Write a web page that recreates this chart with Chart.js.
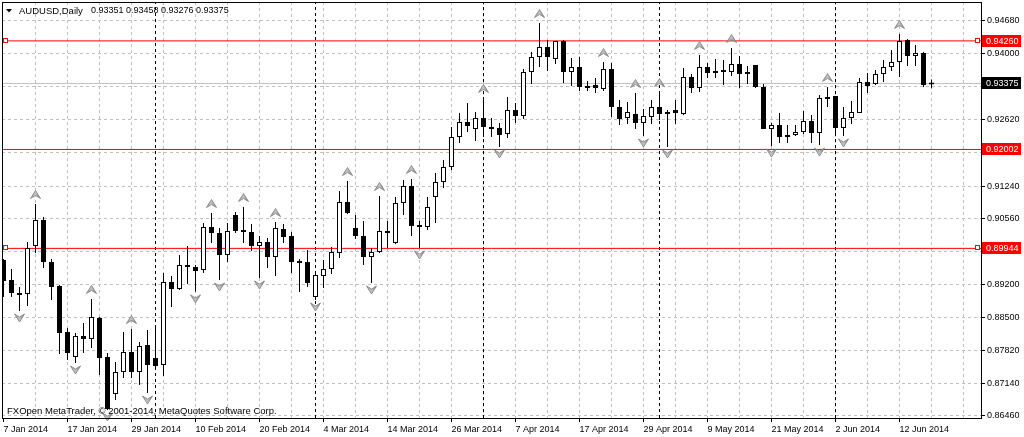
<!DOCTYPE html>
<html><head><meta charset="utf-8">
<script src="https://cdn.jsdelivr.net/npm/chart.js@4/dist/chart.umd.min.js"></script>
<style>html,body{margin:0;padding:0;background:#fff;overflow:hidden}#wrap{width:1024px;height:437px;position:relative}</style>
</head><body><div id="wrap"><canvas id="c"></canvas></div>
<script>
// ---------- data ----------
const symbolName = 'AUDUSD,Daily';
const copyrightText = 'FXOpen MetaTrader, \u00A9 2001-2014, MetaQuotes Software Corp.';
const dateLabels = ['7 Jan 2014','17 Jan 2014','29 Jan 2014','10 Feb 2014','20 Feb 2014','4 Mar 2014','14 Mar 2014','26 Mar 2014','7 Apr 2014','17 Apr 2014','29 Apr 2014','9 May 2014','21 May 2014','2 Jun 2014','12 Jun 2014'];
const labelStep = 8;
const gridStep = 4;

const opens = [0.89703,0.89287,0.89017,0.88996,0.89994,0.90535,0.89661,0.89162,0.88205,0.87685,
0.88122,0.88060,0.88497,0.87685,0.86916,0.87373,0.87789,0.87373,0.87935,0.87665,
0.87519,0.89245,0.89100,0.89599,0.89557,0.89495,0.90389,0.90265,0.89807,0.90639,
0.90327,0.90285,0.89994,0.90077,0.89765,0.90348,0.90202,0.89682,0.89661,0.88933,
0.89370,0.89516,0.89849,0.90909,0.90369,0.90202,0.89765,0.89869,0.90306,0.90057,
0.90889,0.91242,0.90410,0.90389,0.91013,0.91325,0.91637,0.92261,0.92573,0.92428,
0.92657,0.92449,0.92449,0.92324,0.92823,0.92698,0.93613,0.93925,0.94133,0.93884,
0.94258,0.93613,0.93717,0.93322,0.93343,0.93260,0.93676,0.92885,0.92657,0.92740,
0.92553,0.92677,0.92885,0.92740,0.92823,0.92740,0.93509,0.93281,0.93717,0.93593,
0.93634,0.93613,0.93780,0.93572,0.93759,0.93301,0.92428,0.92511,0.92261,0.92303,
0.92365,0.92594,0.92345,0.93093,0.93114,0.92449,0.92657,0.92761,0.93405,0.93364,
0.93572,0.93717,0.93821,0.94279,0.93946,0.94009,0.93351];
const highs = [0.89724,0.89516,0.89141,0.90077,0.90868,0.90597,0.89724,0.89183,0.88289,0.88185,
0.88393,0.88892,0.88517,0.87769,0.87581,0.88205,0.88268,0.87997,0.88247,0.88351,
0.89433,0.89370,0.89807,0.89994,0.89599,0.90473,0.90681,0.90369,0.90473,0.90701,
0.90805,0.90452,0.90202,0.90161,0.90493,0.90452,0.90285,0.89724,0.89911,0.89474,
0.89703,0.89973,0.91138,0.91346,0.90639,0.90514,0.89953,0.91034,0.90514,0.91013,
0.91367,0.91388,0.90514,0.91013,0.91513,0.91783,0.92469,0.92761,0.92969,0.92781,
0.93073,0.92657,0.92553,0.93093,0.92969,0.93676,0.94029,0.94633,0.94279,0.94258,
0.94279,0.93905,0.93925,0.93426,0.93489,0.93821,0.93801,0.93031,0.92990,0.93177,
0.92844,0.93031,0.93197,0.92823,0.93031,0.93697,0.93572,0.93967,0.93801,0.93884,
0.93863,0.94113,0.93946,0.93738,0.93759,0.93364,0.92553,0.92761,0.92511,0.92511,
0.92802,0.92719,0.93135,0.93301,0.93114,0.92885,0.93010,0.93489,0.93593,0.93655,
0.93863,0.94071,0.94404,0.94300,0.94175,0.94029,0.93458];
const lows = [0.88933,0.88933,0.88642,0.88746,0.89849,0.89537,0.88871,0.87748,0.87623,0.87561,
0.87769,0.87873,0.87311,0.86583,0.86791,0.87249,0.87249,0.87103,0.86937,0.87415,
0.87290,0.88725,0.89080,0.89204,0.89040,0.89433,0.90057,0.89287,0.89661,0.90265,
0.90057,0.89890,0.89329,0.89537,0.89370,0.90057,0.89433,0.89037,0.89141,0.88871,
0.89121,0.89412,0.89745,0.90660,0.90140,0.89599,0.89225,0.89849,0.89953,0.90036,
0.90639,0.90202,0.89953,0.90327,0.90473,0.91201,0.91575,0.92137,0.92365,0.92178,
0.92261,0.92261,0.92053,0.92241,0.92553,0.92636,0.93364,0.93717,0.93634,0.93780,
0.93385,0.93322,0.93218,0.93218,0.93177,0.93218,0.92677,0.92511,0.92532,0.92428,
0.92282,0.92532,0.92615,0.92053,0.92532,0.92719,0.93177,0.93197,0.93489,0.93489,
0.93343,0.93530,0.93281,0.93364,0.93281,0.92428,0.92074,0.92137,0.92137,0.92282,
0.92324,0.92137,0.92095,0.92885,0.92345,0.92282,0.92532,0.92761,0.93177,0.93343,
0.93405,0.93634,0.93509,0.93738,0.93738,0.93301,0.93276];
const closes = [0.89266,0.89017,0.88975,0.89953,0.90535,0.89661,0.89141,0.88185,0.87769,0.88122,
0.88060,0.88517,0.87665,0.86604,0.87373,0.87789,0.87373,0.87914,0.87519,0.87498,
0.89245,0.89100,0.89599,0.89557,0.89474,0.90389,0.90265,0.89807,0.90306,0.90306,
0.90285,0.89994,0.90077,0.89765,0.90369,0.90181,0.89661,0.89641,0.89225,0.89391,
0.89516,0.89869,0.90909,0.90681,0.90202,0.89765,0.89869,0.90306,0.90265,0.90889,
0.91242,0.90410,0.90389,0.90805,0.91325,0.91637,0.92261,0.92573,0.92490,0.92657,
0.92469,0.92428,0.92303,0.92823,0.92698,0.93613,0.93925,0.94133,0.93925,0.94258,
0.93613,0.93717,0.93301,0.93281,0.93281,0.93676,0.92885,0.92636,0.92781,0.92553,
0.92698,0.92885,0.92740,0.92781,0.92761,0.93509,0.93281,0.93717,0.93593,0.93634,
0.93613,0.93780,0.93572,0.93613,0.93301,0.92428,0.92511,0.92261,0.92303,0.92365,
0.92594,0.92345,0.93073,0.93052,0.92449,0.92657,0.92781,0.93405,0.93322,0.93572,
0.93717,0.93821,0.94258,0.93946,0.94009,0.93343,0.93375];

const fractalUpIdx = [4,11,16,26,30,34,43,47,51,60,67,75,79,82,87,91,103,112];
const fractalDownIdx = [2,9,13,18,24,27,32,39,46,52,62,80,83,96,102,105];

const levelPrices = [0.94260, 0.92002, 0.89944];
const levelSelected = [true, false, true];
const bidPrice = 0.93375;
const monthStartIdx = [19, 39, 60, 82, 104];

const yTickValues = [0.94680,0.94000,0.93320,0.92620,0.91940,0.91240,0.90560,0.89880,0.89200,0.88500,0.87820,0.87140,0.86460];
const yTickHidden = [0.93320,0.91940,0.89880];

const Y_MIN = 0.86416, Y_MAX = 0.95069;
const X_MIN = -0.1875, X_MAX = 122.1875;

// ---------- styles ----------
const FONT_FAMILY = '"Liberation Sans", Arial, sans-serif';
const FONT_SIZE = 9;
const GRID_COLOR = '#c0c0c0';
const LEVEL_COLOR = '#ff0000';
const BID_COLOR = '#c0c0c0';
Chart.defaults.font.family = FONT_FAMILY;
Chart.defaults.font.size = FONT_SIZE;
Chart.defaults.color = '#000';

function makeArrow(up) {
  const c = document.createElement('canvas');
  c.width = 13; c.height = 44;
  const g = c.getContext('2d');
  g.save();
  if (!up) { g.translate(0, 41.5); g.scale(1, -1); }
  g.beginPath();
  g.moveTo(6.5, 8.5); g.lineTo(11.5, 16.5); g.lineTo(6.5, 13.5); g.lineTo(1.5, 16.5); g.closePath();
  const grad = g.createLinearGradient(1, 0, 12, 0);
  grad.addColorStop(0, '#8f9fc0'); grad.addColorStop(0.5, '#c4c4c4'); grad.addColorStop(1, '#808080');
  g.fillStyle = grad; g.fill();
  g.strokeStyle = '#7c7c7c'; g.lineWidth = 0.8; g.stroke();
  g.restore();
  return c;
}
const arrowUp = makeArrow(true);
const arrowDown = makeArrow(false);

// ---------- datasets ----------
const idx = opens.map((_, i) => i);
const bodyData = idx.map(i => ({x: i, y: [opens[i], closes[i]]}));
const wickData = idx.map(i => ({x: i, y: [lows[i], highs[i]]}));
const bodyColors = idx.map(i => closes[i] >= opens[i] ? '#ffffff' : '#000000');

const datasets = [];
monthStartIdx.forEach(m => datasets.push({
  type: 'line', data: [{x: m, y: Y_MIN}, {x: m, y: Y_MAX}],
  borderColor: '#000', borderWidth: 1, borderDash: [3, 3], pointRadius: 0, order: 9
}));
levelPrices.forEach(p => datasets.push({
  type: 'line', data: [{x: X_MIN, y: p}, {x: X_MAX, y: p}],
  borderColor: LEVEL_COLOR, borderWidth: 1, pointRadius: 0, order: 7
}));
datasets.push({
  type: 'line', data: [{x: X_MIN, y: bidPrice}, {x: X_MAX, y: bidPrice}],
  borderColor: BID_COLOR, borderWidth: 1, pointRadius: 0, order: 8
});
datasets.push({
  type: 'bar', data: wickData, backgroundColor: '#000', borderWidth: 0,
  barThickness: 1, grouped: false, order: 3, inflateAmount: 0
});
datasets.push({
  type: 'bar', data: bodyData, backgroundColor: bodyColors, borderColor: '#000',
  borderWidth: 1, borderSkipped: false, barThickness: 5, grouped: false,
  minBarLength: 2, order: 2, inflateAmount: 0
});
datasets.push({
  type: 'line', data: fractalUpIdx.map(i => ({x: i, y: highs[i]})), showLine: false,
  pointStyle: arrowUp, pointRadius: 6, order: 1, clip: false
});
datasets.push({
  type: 'line', data: fractalDownIdx.map(i => ({x: i, y: lows[i]})), showLine: false,
  pointStyle: arrowDown, pointRadius: 6, order: 1, clip: false
});

// ---------- decorations plugin ----------
const decor = {
  id: 'decor',
  beforeDraw(chart) {
    const ctx = chart.ctx;
    ctx.save(); ctx.fillStyle = '#fff'; ctx.fillRect(0, 0, chart.width, chart.height); ctx.restore();
  },
  afterDraw(chart) {
    const {ctx, chartArea: a, scales: {y}} = chart;
    ctx.save();
    // frame
    ctx.strokeStyle = '#000'; ctx.lineWidth = 1;
    ctx.strokeRect(Math.round(a.left) + 0.5, Math.round(a.top) + 0.5, Math.round(a.right - a.left) - 0.0, Math.round(a.bottom - a.top));
    ctx.font = FONT_SIZE + 'px ' + FONT_FAMILY;
    ctx.textBaseline = 'middle';
    // level boxes + markers
    const boxX = Math.round(a.right) + 1, boxW = chart.width - boxX - 3;
    levelPrices.forEach((p, k) => {
      const py = y.getPixelForValue(p);
      ctx.fillStyle = LEVEL_COLOR;
      ctx.fillRect(boxX, Math.round(py) - 6, boxW, 12);
      ctx.fillStyle = '#fff'; ctx.textAlign = 'left';
      ctx.fillText(p.toFixed(5), boxX + 4, Math.round(py) + 0.5);
      if (levelSelected[k]) {
        [a.left + 1, a.right - 6].forEach(sx => {
          ctx.fillStyle = '#fff'; ctx.fillRect(Math.round(sx), Math.round(py) - 2, 4, 4);
          ctx.strokeStyle = LEVEL_COLOR; ctx.strokeRect(Math.round(sx) + 0.5, Math.round(py) - 2.5, 4, 4);
        });
      }
    });
    const by = y.getPixelForValue(bidPrice);
    ctx.fillStyle = '#000'; ctx.fillRect(boxX, Math.round(by) - 6, boxW, 12);
    ctx.fillStyle = '#fff'; ctx.fillText(bidPrice.toFixed(5), boxX + 4, Math.round(by) + 0.5);
    // header
    const last = opens.length - 1;
    ctx.fillStyle = '#000';
    ctx.beginPath(); ctx.moveTo(6, 9); ctx.lineTo(12, 9); ctx.lineTo(9, 12.5); ctx.closePath(); ctx.fill();
    ctx.textAlign = 'left';
    ctx.font = '9.5px ' + FONT_FAMILY;
    ctx.fillText(symbolName, 19, 11);
    ctx.font = FONT_SIZE + 'px ' + FONT_FAMILY;
    ctx.fillText([opens[last], highs[last], lows[last], closes[last]].map(v => v.toFixed(5)).join(' '), 91, 11);
    // copyright
    ctx.font = '9.5px ' + FONT_FAMILY;
    ctx.fillText(copyrightText, 7, 411);
    ctx.restore();
  }
};

new Chart(document.getElementById('c'), {
  type: 'bar',
  data: {datasets},
  options: {
    responsive: true, maintainAspectRatio: false, animation: false, events: [],
    devicePixelRatio: 1,
    layout: {autoPadding: false, padding: {left: 2, top: 2, right: 0, bottom: 0}},
    plugins: {legend: {display: false}, tooltip: {enabled: false}},
    scales: {
      x: {
        type: 'linear', position: 'bottom', min: X_MIN, max: X_MAX, offset: false,
        afterFit: s => { s.height = 19; s.paddingLeft = 0; s.paddingRight = 0; },
        afterBuildTicks: s => {
          const t = [];
          for (let v = 0; v <= X_MAX; v += gridStep) t.push({value: v});
          s.ticks = t;
        },
        ticks: {
          autoSkip: false, maxRotation: 0, minRotation: 0, align: 'start', padding: 2,
          font: {size: FONT_SIZE, family: FONT_FAMILY}, color: '#000',
          callback: v => (v % labelStep === 0 && v / labelStep < dateLabels.length) ? dateLabels[v / labelStep] : ''
        },
        grid: {
          offset: false, drawTicks: true, tickLength: 4, tickWidth: 1, tickBorderDash: [],
          color: c => (c.tick && c.tick.value === 0) ? 'rgba(0,0,0,0)' : GRID_COLOR,
          tickColor: c => (c.tick && c.tick.value % labelStep === 0 && c.tick.value / labelStep < dateLabels.length) ? '#000' : 'rgba(0,0,0,0)'
        },
        border: {display: false, dash: [3, 3]}
      },
      y: {
        type: 'linear', position: 'right', min: Y_MIN, max: Y_MAX,
        afterFit: s => { s.width = 43; s.paddingTop = 0; s.paddingBottom = 0; },
        afterBuildTicks: s => { s.ticks = yTickValues.map(v => ({value: v})); },
        ticks: {
          padding: 2, font: {size: FONT_SIZE, family: FONT_FAMILY}, color: '#000',
          callback: v => yTickHidden.includes(v) ? '' : v.toFixed(5)
        },
        grid: {
          drawTicks: true, tickLength: 4, tickWidth: 1, tickBorderDash: [], color: GRID_COLOR,
          tickColor: '#000'
        },
        border: {display: false, dash: [3, 3]}
      }
    }
  },
  plugins: [decor]
});
</script>
</body></html>
